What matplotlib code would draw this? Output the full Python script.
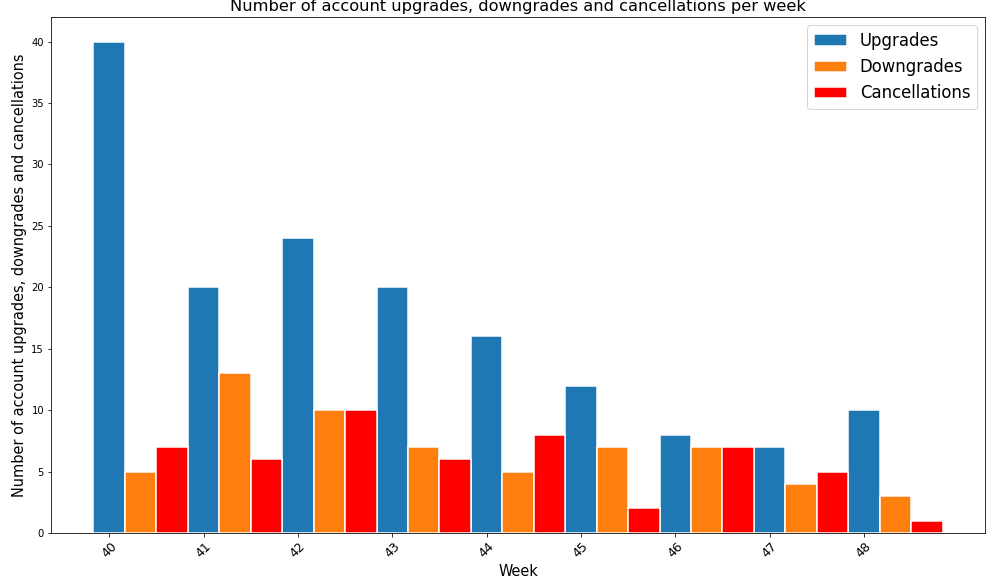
import numpy as np
import matplotlib
matplotlib.use("Agg")
import matplotlib.pyplot as plt

weeks = [40, 41, 42, 43, 44, 45, 46, 47, 48]
upgrades = [40, 20, 24, 20, 16, 12, 8, 7, 10]
downgrades = [5, 13, 10, 7, 5, 7, 7, 4, 3]
cancellations = [7, 6, 10, 6, 8, 2, 7, 5, 1]

fig = plt.figure(figsize=(993 / 72, 584 / 72), dpi=72)
ax = fig.add_axes([0.0514, 0.0873, 0.9406, 0.8836])

x = np.arange(len(weeks))
w = 1 / 3
ax.bar(x, upgrades, width=w, color='#1f77b4', edgecolor='white', linewidth=1.5, label='Upgrades')
ax.bar(x + w, downgrades, width=w, color='#ff7f0e', edgecolor='white', linewidth=1.5, label='Downgrades')
ax.bar(x + 2 * w, cancellations, width=w, color='red', edgecolor='white', linewidth=1.5, label='Cancellations')

ax.set_xticks(x)
ax.set_xticklabels(weeks, rotation=45, fontsize=12.5)
ax.tick_params(axis='y', labelsize=10)
ax.set_xlabel("Week", fontsize=14.5)
ax.set_ylabel("Number of account upgrades, downgrades and cancellations", fontsize=14.5)
ax.set_title("Number of account upgrades, downgrades and cancellations per week", fontsize=16.2)
ax.legend(fontsize=16.5, loc='upper right')

fig.savefig("out.png", dpi=72)
